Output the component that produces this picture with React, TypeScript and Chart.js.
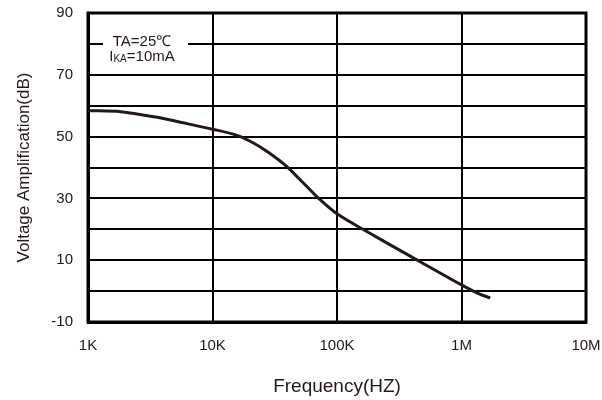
import React, { useEffect, useRef } from 'react';
import { Chart, registerables } from 'chart.js';

Chart.register(...registerables);

const frequencies = [1000, 1840, 3390, 6250, 10000, 15500, 21000, 28600, 39000, 52700, 71700, 100000, 168000, 400000, 1000000, 1400000, 1700000];
const gainDb = [58.4, 58.05, 56.4, 54.2, 52.4, 50.5, 48.1, 44.7, 40.5, 35.3, 29.9, 25.0, 19.6, 11, 2, -1, -2.2];

const xTickValues = [1000, 10000, 100000, 1000000, 10000000];
const xTickLabels = ['1K', '10K', '100K', '1M', '10M'];
const yLabelValues = [-10, 10, 30, 50, 70, 90];

const FONT = '"Liberation Sans", Arial, sans-serif';

const framePlugin = {
  id: 'frame',
  beforeDatasetsDraw(chart: Chart) {
    const { ctx, chartArea } = chart;
    const cx = chartArea.left + 54;
    ctx.save();
    ctx.fillStyle = '#fff';
    ctx.fillRect(chartArea.left + 15, 30, 85, 36);

    ctx.fillStyle = '#231815';
    ctx.textBaseline = 'middle';
    ctx.font = `15px ${FONT}`;
    ctx.textAlign = 'center';
    ctx.fillText('TA=25\u2103', cx, 42);

    // IKA=10mA with small KA
    const big = `15px ${FONT}`;
    const small = `10px ${FONT}`;
    ctx.font = big;
    const wI = ctx.measureText('I').width;
    const wRest = ctx.measureText('=10mA').width;
    ctx.font = small;
    const wKA = ctx.measureText('KA').width;
    let x = cx - (wI + wKA + wRest) / 2;
    ctx.textAlign = 'left';
    ctx.font = big;
    ctx.fillText('I', x, 57);
    x += wI;
    ctx.font = small;
    ctx.fillText('KA', x, 59);
    x += wKA;
    ctx.font = big;
    ctx.fillText('=10mA', x, 57);
    ctx.restore();
  },
  afterDatasetsDraw(chart: Chart) {
    const { ctx, chartArea } = chart;
    ctx.save();
    ctx.strokeStyle = '#000';
    ctx.lineWidth = 3;
    ctx.strokeRect(chartArea.left, chartArea.top, chartArea.right - chartArea.left, chartArea.bottom - chartArea.top);
    ctx.restore();
  },
};

export default function App() {
  const chartRef = useRef<HTMLCanvasElement>(null);
  const chartInstance = useRef<Chart | null>(null);

  useEffect(() => {
    document.body.style.margin = '0';
    if (!chartRef.current) return;
    if (chartInstance.current) chartInstance.current.destroy();

    chartInstance.current = new Chart(chartRef.current, {
      type: 'line',
      data: {
        datasets: [{
          data: frequencies.map((f, i) => ({ x: f, y: gainDb[i] })),
          borderColor: '#231815',
          borderWidth: 3,
          pointRadius: 0,
          tension: 0.3,
          fill: false,
        }],
      },
      options: {
        responsive: false,
        animation: false,
        layout: { padding: { left: 0, right: 16, top: 13, bottom: 0 } },
        plugins: { legend: { display: false }, tooltip: { enabled: false } },
        scales: {
          x: {
            type: 'logarithmic',
            min: 1000,
            max: 10000000,
            afterBuildTicks: (scale: any) => {
              scale.ticks = xTickValues.map((v) => ({ value: v }));
            },
            afterFit: (scale: any) => {
              scale.height = 78;
              scale.paddingLeft = 0;
              scale.paddingRight = 0;
            },
            grid: { color: '#000', lineWidth: 2, drawTicks: false },
            border: { color: '#000', width: 3 },
            ticks: {
              autoSkip: false,
              maxRotation: 0,
              padding: 15,
              color: '#231815',
              font: { family: FONT, size: 15 },
              callback: (value: any) => {
                const i = xTickValues.indexOf(Number(value));
                return i >= 0 ? xTickLabels[i] : '';
              },
            },
            title: {
              display: true,
              text: 'Frequency(HZ)',
              color: '#231815',
              font: { family: FONT, size: 19 },
              padding: { top: 0, bottom: 2 },
            },
          },
          y: {
            min: -10,
            max: 90,
            afterFit: (scale: any) => {
              scale.width = 88;
              scale.paddingTop = 0;
              scale.paddingBottom = 0;
            },
            grid: { color: '#000', lineWidth: 2, drawTicks: false },
            border: { color: '#000', width: 3 },
            ticks: {
              stepSize: 10,
              padding: 15,
              color: '#231815',
              font: { family: FONT, size: 15 },
              callback: (value: any) => (yLabelValues.includes(Number(value)) ? String(value) : ''),
            },
            title: {
              display: true,
              text: 'Voltage Amplification(dB)',
              color: '#231815',
              font: { family: FONT, size: 17 },
              padding: 14,
            },
          },
        },
      },
      plugins: [framePlugin],
    });

    return () => {
      if (chartInstance.current) {
        chartInstance.current.destroy();
        chartInstance.current = null;
      }
    };
  }, []);

  return (
    <div style={{ width: 602, height: 400 }}>
      <canvas ref={chartRef} width={602} height={400} style={{ display: 'block' }} />
    </div>
  );
}
